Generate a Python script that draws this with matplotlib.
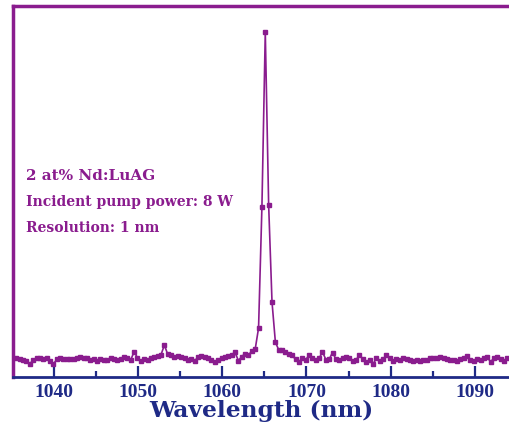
import matplotlib.pyplot as plt
import numpy as np

# emission spectrum, 0.4 nm sampling starting at 1035.5 nm
wl_start = 1035.5
wl_step = 0.4
intensity = [
    0.051, 0.049, 0.046, 0.044, 0.036, 0.045, 0.050, 0.052, 0.048, 0.051,
    0.044, 0.034, 0.048, 0.050, 0.049, 0.048, 0.049, 0.048, 0.052, 0.053,
    0.050, 0.051, 0.046, 0.048, 0.042, 0.049, 0.047, 0.046, 0.051, 0.049,
    0.047, 0.048, 0.053, 0.050, 0.046, 0.068, 0.052, 0.042, 0.049, 0.047,
    0.052, 0.055, 0.057, 0.060, 0.086, 0.061, 0.058, 0.054, 0.056, 0.055,
    0.050, 0.045, 0.049, 0.042, 0.055, 0.057, 0.054, 0.050, 0.047, 0.040,
    0.046, 0.051, 0.055, 0.057, 0.060, 0.067, 0.044, 0.055, 0.063, 0.058,
    0.071, 0.075, 0.132, 0.458, 0.930, 0.464, 0.202, 0.094, 0.073, 0.072,
    0.068, 0.062, 0.058, 0.048, 0.040, 0.052, 0.046, 0.059, 0.052, 0.045,
    0.050, 0.068, 0.047, 0.048, 0.066, 0.048, 0.046, 0.050, 0.055, 0.051,
    0.042, 0.046, 0.060, 0.048, 0.040, 0.046, 0.034, 0.050, 0.042, 0.048,
    0.058, 0.050, 0.044, 0.048, 0.046, 0.050, 0.048, 0.047, 0.044, 0.046,
    0.042, 0.045, 0.047, 0.052, 0.051, 0.050, 0.055, 0.050, 0.049, 0.045,
    0.047, 0.043, 0.048, 0.050, 0.056, 0.046, 0.043, 0.048, 0.045, 0.051,
    0.054, 0.040, 0.052, 0.055, 0.049, 0.042, 0.050, 0.052,
]
wavelength = wl_start + wl_step * np.arange(len(intensity))

info_lines = ['2 at% Nd:LuAG', 'Incident pump power: 8 W', 'Resolution: 1 nm']
info_sizes = [11, 10, 10]

purple = '#8a1c8e'
navy = '#1f2a86'
times = ['Liberation Serif', 'DejaVu Serif']
wide = ['DejaVu Serif']

fig = plt.figure(figsize=(5.1, 4.28), dpi=100)
ax = fig.add_axes([13 / 510, 51 / 428, 1 - 13 / 510, 371 / 428])

ax.plot(wavelength, intensity, '-s', color=purple, lw=1.2, ms=2.8, mec=purple, mfc=purple)

ax.set_xlim(1035.1, 1094.2)
ax.set_ylim(0, 1.0)
ax.set_xticks(np.arange(1040, 1091, 10))
ax.set_xticks(np.arange(1045, 1091, 10), minor=True)
ax.set_yticks([])

ax.spines['right'].set_visible(False)
ax.spines['left'].set_color(purple)
ax.spines['top'].set_color(purple)
ax.spines['left'].set_linewidth(2.5)
ax.spines['top'].set_linewidth(2.5)
ax.spines['bottom'].set_color(navy)
ax.spines['bottom'].set_linewidth(2.0)

ax.tick_params(axis='x', which='major', direction='in', length=8, width=1.6, color=navy,
               labelcolor=navy, pad=5)
ax.tick_params(axis='x', which='minor', direction='in', length=4, width=1.6, color=navy)
for lab in ax.get_xticklabels():
    lab.set_fontfamily(times)
    lab.set_fontweight('bold')
    lab.set_fontsize(14)

ax.set_xlabel('Wavelength (nm)', fontsize=16.8, fontweight='bold', color=navy,
              family=wide, labelpad=-1)

# info block, positioned in pixels from the top of the figure
for i, line in enumerate(info_lines):
    ax.text(26, 428 - (180 + 26 * i), line, transform=None, fontsize=info_sizes[i],
            fontweight='bold', color=purple, family=wide, va='baseline')

fig.savefig('out.png', dpi=100)
